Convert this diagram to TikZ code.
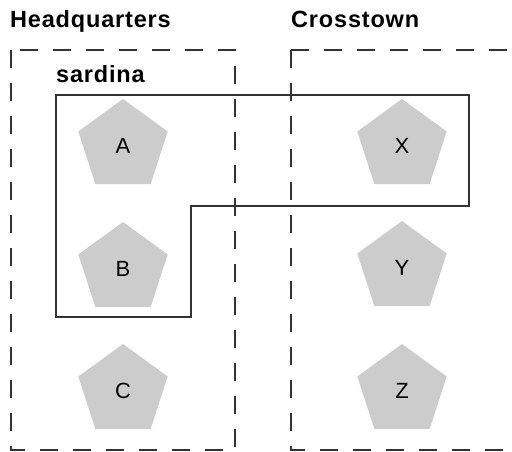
\documentclass[tikz,border=0pt]{standalone}
\usepackage{fontspec}
\setmainfont{Liberation Sans}
\newfontfamily\headfont[LetterSpace=3.5]{Liberation Sans}
\usepackage{tikz}
\usetikzlibrary{positioning, shapes.geometric}
\definecolor{hostgray}{HTML}{CCCCCC}
\definecolor{linegray}{HTML}{333333}

\begin{document}
\begin{tikzpicture}[x=1pt,y=-1pt]
		\tikzstyle{host} = [regular polygon, regular polygon sides=5, minimum size=94, inner sep=0, fill=hostgray, font=\fontsize{22}{24}\selectfont]
		\tikzstyle{site} = [line width=1.6, draw=linegray, dash pattern=on 18 off 15]
		\tikzstyle{group} = [line width=1.6, draw=linegray]
		\tikzstyle{title} = [anchor=base west, inner sep=0, font=\headfont\bfseries\fontsize{23.5}{26}\selectfont]
		\useasboundingbox (0,0) rectangle (512,452);
		\clip (0,0) rectangle (512,452);
		% sites
		\draw [site] (11,50) rectangle (235,450);
		\draw [site] (291,50) rectangle (560,450);
		\node [title] (hq) at (10,28) {Headquarters};
		\node [title] (ct) at (291,28) {Crosstown};
		% group
		\draw [group] (56,95) -- (469,95) -- (469,206) -- (191,206) -- (191,317) -- (56,317) -- cycle;
		\node [title] (sar) at (56,83) {sardina};
		% hosts
		\node [host] (a) at (123,146) {A};
		\node [host] (b) at (123,269) {B};
		\node [host] (c) at (123,391) {C};
		\node [host] (x) at (402,146) {X};
		\node [host] (y) at (402,268) {Y};
		\node [host] (z) at (402,391) {Z};
\end{tikzpicture}
\end{document}
